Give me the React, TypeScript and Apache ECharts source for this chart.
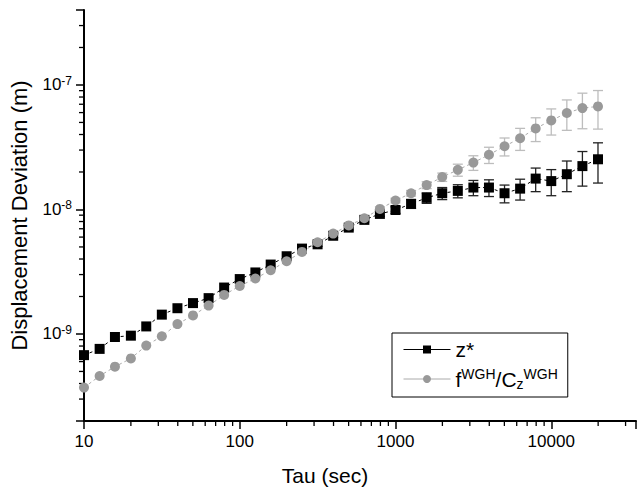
import React, { useEffect, useRef } from 'react';
import * as echarts from 'echarts';

const TAU = [10, 12.6, 15.8, 20, 25.1, 31.6, 39.8, 50.1, 63.1, 79.4,
  100, 126, 158, 200, 251, 316, 398, 501, 631, 794,
  1000, 1259, 1585, 1995, 2512, 3162, 3981, 5012, 6310, 7943,
  10000, 12589, 15849, 19953];

const Z_STAR = [6.76e-10, 7.59e-10, 9.46e-10, 9.69e-10, 1.15e-9, 1.43e-9, 1.61e-9, 1.77e-9, 1.94e-9, 2.36e-9,
  2.76e-9, 3.12e-9, 3.61e-9, 4.21e-9, 4.85e-9, 5.25e-9, 6.15e-9, 7.15e-9, 8.25e-9, 9.21e-9,
  9.9e-9, 1.11e-8, 1.24e-8, 1.35e-8, 1.41e-8, 1.50e-8, 1.50e-8, 1.35e-8, 1.47e-8, 1.77e-8,
  1.69e-8, 1.92e-8, 2.23e-8, 2.53e-8];

const Z_STAR_ERR = [0, 0, 0, 0, 0, 0, 0, 0, 0, 0,
  0, 0, 0, 0, 0, 0.02e-8, 0.02e-8, 0.03e-8, 0.03e-8, 0.04e-8,
  0.06e-8, 0.09e-8, 0.12e-8, 0.15e-8, 0.17e-8, 0.21e-8, 0.23e-8, 0.22e-8, 0.28e-8, 0.38e-8,
  0.40e-8, 0.53e-8, 0.69e-8, 0.9e-8];

const F_WGH = [3.71e-10, 4.60e-10, 5.46e-10, 6.36e-10, 8.07e-10, 9.59e-10, 1.20e-9, 1.41e-9, 1.69e-9, 2.06e-9,
  2.43e-9, 2.79e-9, 3.25e-9, 3.84e-9, 4.56e-9, 5.45e-9, 6.4e-9, 7.45e-9, 8.5e-9, 1.01e-8,
  1.18e-8, 1.35e-8, 1.57e-8, 1.82e-8, 2.08e-8, 2.38e-8, 2.75e-8, 3.22e-8, 3.73e-8, 4.48e-8,
  5.19e-8, 5.95e-8, 6.52e-8, 6.72e-8];

const F_WGH_ERR = [0, 0, 0, 0, 0, 0, 0, 0, 0, 0,
  0, 0, 0, 0, 0, 0.01e-8, 0.02e-8, 0.02e-8, 0.03e-8, 0.04e-8,
  0.05e-8, 0.07e-8, 0.1e-8, 0.14e-8, 0.23e-8, 0.32e-8, 0.41e-8, 0.53e-8, 0.75e-8, 0.97e-8,
  1.23e-8, 1.63e-8, 2.07e-8, 2.3e-8];

const X_MIN = 10;
const X_MAX = 35000;
const Y_MIN = 2e-10;
const Y_MAX = 4e-7;

const X_MINOR = [20, 30, 40, 50, 60, 70, 80, 90, 200, 300, 400, 500, 600, 700, 800, 900,
  2000, 3000, 4000, 5000, 6000, 7000, 8000, 9000, 20000, 30000];
const Y_MINOR = [3e-10, 4e-10, 5e-10, 6e-10, 7e-10, 8e-10, 9e-10,
  2e-9, 3e-9, 4e-9, 5e-9, 6e-9, 7e-9, 8e-9, 9e-9,
  2e-8, 3e-8, 4e-8, 5e-8, 6e-8, 7e-8, 8e-8, 9e-8,
  2e-7, 3e-7];

const FONT = "'Liberation Sans', Arial, sans-serif";

function isPow10(v: number) {
  const l = Math.log10(v);
  return Math.abs(l - Math.round(l)) < 1e-6;
}

export default function App() {
  const ref = useRef<HTMLDivElement>(null);
  useEffect(() => {
    if (!ref.current) return;
    const chart = echarts.init(ref.current, undefined, { renderer: 'svg' });

    const errData = (vals: number[], errs: number[]) =>
      TAU.map((t, i) => [t, vals[i] - errs[i], vals[i] + errs[i], errs[i]]);

    const errSeries = (name: string, vals: number[], errs: number[], color: string) => ({
      type: 'custom',
      name: name + '_err',
      silent: true,
      clip: false,
      z: 1,
      encode: { x: 0, y: [1, 2] },
      data: errData(vals, errs),
      renderItem: (params: any, api: any) => {
        if (api.value(3) <= 0) return null;
        const x = api.value(0);
        const top = api.coord([x, api.value(2)]);
        const bot = api.coord([x, api.value(1)]);
        const hw = 5;
        const st = { stroke: color, lineWidth: 1.3 };
        return {
          type: 'group',
          children: [
            { type: 'line', shape: { x1: top[0], y1: top[1], x2: bot[0], y2: bot[1] }, style: st },
            { type: 'line', shape: { x1: top[0] - hw, y1: top[1], x2: top[0] + hw, y2: top[1] }, style: st },
            { type: 'line', shape: { x1: bot[0] - hw, y1: bot[1], x2: bot[0] + hw, y2: bot[1] }, style: st },
          ],
        };
      },
    });

    const option: any = {
      animation: false,
      backgroundColor: '#fff',
      grid: { left: 80, top: 10, right: 4, bottom: 67, containLabel: false },
      xAxis: {
        type: 'log',
        logBase: 10,
        min: X_MIN,
        max: X_MAX,
        name: 'Tau (sec)',
        nameLocation: 'middle',
        nameGap: 44,
        nameTextStyle: { fontFamily: FONT, fontSize: 21, color: '#000', padding: [0, 70, 0, 0] },
        axisLine: { show: true, onZero: false, lineStyle: { color: '#000', width: 2 } },
        axisTick: { show: true, inside: false, length: 8, lineStyle: { color: '#000', width: 1.5 } },
        axisLabel: {
          fontFamily: FONT, fontSize: 17, color: '#000', margin: 12,
          formatter: (v: number) => (isPow10(v) ? String(Math.round(v)) : ''),
        },
        splitLine: { show: false },
      },
      yAxis: {
        type: 'log',
        logBase: 10,
        min: Y_MIN,
        max: Y_MAX,
        name: 'Displacement Deviation (m)',
        nameLocation: 'middle',
        nameGap: 54,
        nameRotate: 90,
        nameTextStyle: { fontFamily: FONT, fontSize: 22, color: '#000' },
        axisLine: { show: true, onZero: false, lineStyle: { color: '#000', width: 2 } },
        axisTick: { show: true, inside: false, length: 8, lineStyle: { color: '#000', width: 1.5 } },
        axisLabel: {
          fontFamily: FONT, fontSize: 17, color: '#000', margin: 12,
          formatter: (v: number) => (isPow10(v) ? `10{sup|${Math.round(Math.log10(v))}}` : ''),
          rich: {
            sup: { fontFamily: FONT, fontSize: 12, color: '#000', verticalAlign: 'top', padding: [0, 0, 8, 0] },
          },
        },
        splitLine: { show: false },
      },
      legend: {
        orient: 'vertical',
        left: 392,
        top: 333,
        padding: [6, 10, 6, 11],
        itemGap: 7,
        itemWidth: 47,
        itemHeight: 10,
        borderColor: '#000',
        borderWidth: 1,
        borderRadius: 0,
        lineStyle: { type: 'solid', width: 1 },
        data: ['z*', 'fWGH/CzWGH'],
        textStyle: {
          fontFamily: FONT, fontSize: 21, color: '#000',
          rich: {
            sup: { fontFamily: FONT, fontSize: 14, color: '#000', verticalAlign: 'top', padding: [0, 0, 10, 0] },
            sub: { fontFamily: FONT, fontSize: 14, color: '#000', verticalAlign: 'bottom', padding: [10, 0, 0, 0] },
          },
        },
        formatter: (name: string) => (name === 'z*' ? 'z*' : 'f{sup|WGH}/C{sub|z}{sup|WGH}'),
      },
      series: [
        errSeries('z*', Z_STAR, Z_STAR_ERR, '#222'),
        errSeries('fWGH/CzWGH', F_WGH, F_WGH_ERR, '#bdbdbd'),
        {
          type: 'line',
          name: 'z*',
          z: 2,
          data: TAU.map((t, i) => [t, Z_STAR[i]]),
          symbol: 'rect',
          symbolSize: 10,
          itemStyle: { color: '#000' },
          lineStyle: { color: '#000', width: 1, type: [3, 3] },
        },
        {
          type: 'line',
          name: 'fWGH/CzWGH',
          z: 3,
          data: TAU.map((t, i) => [t, F_WGH[i]]),
          symbol: 'circle',
          symbolSize: 10,
          itemStyle: { color: '#999' },
          lineStyle: { color: '#aaa', width: 1, type: [3, 3] },
        },
        {
          type: 'custom',
          name: 'xMinor',
          silent: true,
          clip: false,
          data: X_MINOR.map((v) => [v, Y_MIN]),
          renderItem: (params: any, api: any) => {
            const p = api.coord([api.value(0), api.value(1)]);
            return { type: 'line', shape: { x1: p[0], y1: p[1] + 1, x2: p[0], y2: p[1] + 5 }, style: { stroke: '#000', lineWidth: 1.3 } };
          },
        },
        {
          type: 'custom',
          name: 'yMinor',
          silent: true,
          clip: false,
          data: Y_MINOR.map((v) => [X_MIN, v]),
          renderItem: (params: any, api: any) => {
            const p = api.coord([api.value(0), api.value(1)]);
            return { type: 'line', shape: { x1: p[0] - 1, y1: p[1], x2: p[0] - 5, y2: p[1] }, style: { stroke: '#000', lineWidth: 1.3 } };
          },
        },
      ],
    };
    chart.setOption(option);
    return () => chart.dispose();
  }, []);
  return <div ref={ref} style={{ position: 'fixed', left: 0, top: 0, width: 640, height: 491 }} />;
}
